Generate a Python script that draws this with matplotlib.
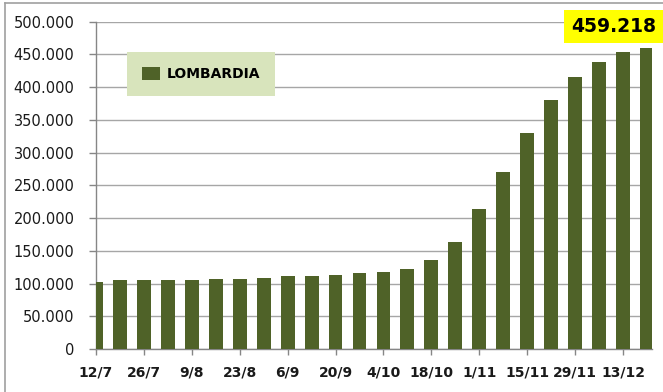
import matplotlib
matplotlib.use("Agg")
import matplotlib.pyplot as plt
from matplotlib.ticker import FuncFormatter, MultipleLocator
from matplotlib.lines import Line2D

# weekly totals, Lombardia
dates = ["12/7", "19/7", "26/7", "2/8", "9/8", "16/8", "23/8", "30/8",
         "6/9", "13/9", "20/9", "27/9", "4/10", "11/10", "18/10", "25/10",
         "1/11", "8/11", "15/11", "22/11", "29/11", "6/12", "13/12", "20/12"]
values = [103000, 105000, 105000, 105000, 105000, 107000, 107000, 109000,
          111000, 111000, 113500, 115500, 117500, 121500, 136000, 163000,
          213500, 270000, 330500, 380000, 415500, 438500, 453000, 459218]
series_name = "LOMBARDIA"
last_label = "459.218"

bar_color = "#4f6228"
grid_color = "#a6a6a6"
axis_color = "#868686"

fig = plt.figure(figsize=(6.63, 3.92), dpi=100)
ax = fig.add_axes([0.1448, 0.1097, 0.8382, 0.8349])

x = list(range(len(values)))
ax.bar(x, values, width=0.58, color=bar_color, label=series_name, zorder=3)

ax.set_xlim(0, 23.2)
ax.set_ylim(0, 500000)

ax.yaxis.set_major_locator(MultipleLocator(50000))
ax.yaxis.set_major_formatter(FuncFormatter(lambda v, p: f"{v:,.0f}".replace(",", ".")))
ax.grid(axis="y", color=grid_color, linewidth=1.0, zorder=0)
ax.set_axisbelow(True)

ax.set_xticks(x[::2])
ax.set_xticklabels(dates[::2], fontsize=10, fontweight="bold", color="#1a1a1a")

for s in ["top", "right"]:
    ax.spines[s].set_visible(False)
for s in ["left", "bottom"]:
    ax.spines[s].set_color(axis_color)
    ax.spines[s].set_linewidth(1.0)

ax.tick_params(axis="y", length=5, width=1, color=axis_color, labelsize=10.5,
               labelcolor="#1a1a1a", pad=10.5)
ax.tick_params(axis="x", length=4, width=1, color=axis_color, pad=8)

leg = ax.legend(loc="lower left", bbox_to_anchor=(0.0558, 0.774), borderaxespad=0,
                frameon=True, fancybox=False, handlelength=1.3, handleheight=1.15,
                handletextpad=0.5, borderpad=1.05,
                prop={"size": 10, "weight": "bold"})
leg.get_frame().set_facecolor("#d8e4bc")
leg.get_frame().set_edgecolor("none")
leg.get_frame().set_alpha(1)

# value callout on the latest week
ax.annotate(last_label, xy=(x[-1], values[-1]), xytext=(-24, 16),
            textcoords="offset points", ha="center", va="center",
            fontsize=13.5, fontweight="bold", color="black",
            bbox=dict(boxstyle="square,pad=0.38", facecolor="#ffff00", edgecolor="none"),
            annotation_clip=False, zorder=5)

# chart area border (left and top edges)
fig.add_artist(Line2D([4.5 / 663, 4.5 / 663], [0, 1 - 2.5 / 392],
                      color="#a0a0a0", linewidth=1.2, transform=fig.transFigure))
fig.add_artist(Line2D([4.5 / 663, 1], [1 - 2.5 / 392, 1 - 2.5 / 392],
                      color="#a0a0a0", linewidth=1.2, transform=fig.transFigure))

fig.savefig("out.png", dpi=100)
